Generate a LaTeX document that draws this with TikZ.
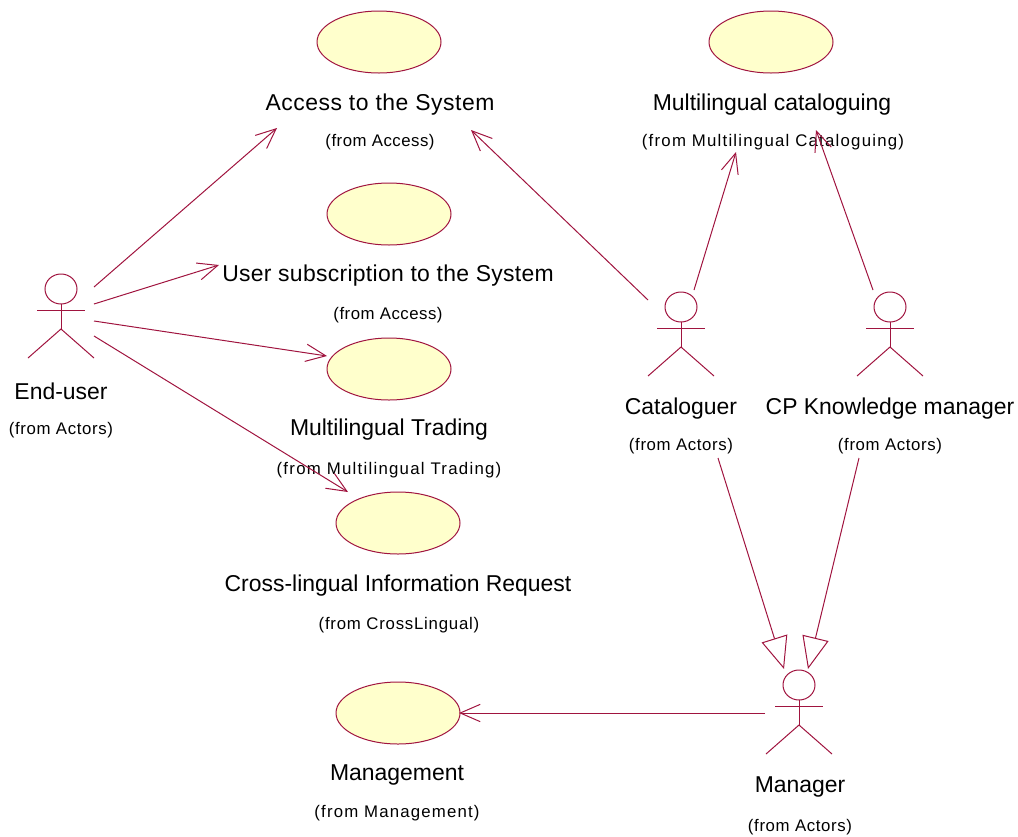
\documentclass[tikz,border=0pt]{standalone}
\usepackage{fontspec}
\setmainfont{Liberation Sans}
\usetikzlibrary{arrows.meta,shapes.geometric}
\definecolor{rose}{HTML}{A0143F}
\definecolor{cream}{HTML}{FFFFCC}
\newcommand{\spaced}[1]{\addfontfeature{LetterSpace=#1}}
\tikzset{
  usecase/.style={ellipse,draw=rose,fill=cream,line width=.75pt,minimum width=93pt,minimum height=46.5pt,inner sep=0pt,outer sep=0pt},
  head/.style={ellipse,draw=rose,line width=.75pt,minimum width=24pt,minimum height=22.5pt,inner sep=0pt,outer sep=0pt},
  limb/.style={draw=rose,line width=.75pt},
  title/.style={font=\fontsize{17.2pt}{20pt}\selectfont,inner sep=0pt,text=black,yshift=-1pt},
  origin/.style={font=\fontsize{12.6pt}{15pt}\selectfont,inner sep=0pt,text=black,yshift=-1pt},
  assoc/.style={draw=rose,line width=.75pt,-{Straight Barb[length=15pt,width=13pt,line width=.75pt]}},
  general/.style={draw=rose,line width=.75pt,-{Triangle[open,length=24pt,width=20pt,line width=.75pt,fill=white]}},
}
\newcommand{\stickfigure}[1]{%
  \draw[limb] ([yshift=-21*.75pt]#1.center) ++(-24,0) -- ++(48,0);
  \draw[limb] (#1.south) -- ([yshift=-40*.75pt]#1.center);
  \draw[limb] ([shift={(-33,69)}]#1.center) -- ([yshift=-40*.75pt]#1.center) -- ([shift={(33,69)}]#1.center);
}
\begin{document}
\begin{tikzpicture}[x=.75pt,y=-.75pt]
\useasboundingbox (0,0) rectangle (1018,836);
% use cases
\node[usecase] (access) at (379,42) {};
\node[usecase] (catalog) at (771,42) {};
\node[usecase] (subscr) at (389,214) {};
\node[usecase] (trading) at (389,369) {};
\node[usecase] (cross) at (398,523) {};
\node[usecase] (mgmt) at (398,713) {};
% actors
\node[head] (enduser) at (61,289) {};
\node[head] (cataloguer) at (681,307) {};
\node[head] (cpkm) at (890,307) {};
\node[head] (manager) at (799,685) {};
\stickfigure{enduser}
\stickfigure{cataloguer}
\stickfigure{cpkm}
\stickfigure{manager}
% labels
\node[title] (t1) at (380,103) {\spaced{2.3}Access to the System};
\node[origin] (o1) at (380,141) {\spaced{3}(from Access)};
\node[title] (t2) at (772,103) {Multilingual cataloguing};
\node[origin] (o2) at (773,141) {\spaced{7.3}(from Multilingual Cataloguing)};
\node[title] (t3) at (388,274) {\spaced{1.3}User subscription to the System};
\node[origin] (o3) at (388,314) {\spaced{3}(from Access)};
\node[title] (t4) at (389,428) {Multilingual Trading};
\node[origin] (o4) at (389,469) {\spaced{7.5}(from Multilingual Trading)};
\node[title] (t5) at (398,584) {Cross-lingual Information Request};
\node[origin] (o5) at (399,624) {\spaced{4.6}(from CrossLingual)};
\node[title] (t6) at (397,774) {Management};
\node[origin] (o6) at (397,812) {\spaced{7}(from Management)};
\node[title] (t7) at (61,390) {End-user};
\node[origin] (o7) at (61,429) {\spaced{3.8}(from Actors)};
\node[title] (t8) at (681,407) {Cataloguer};
\node[origin] (o8) at (681,445) {\spaced{3.8}(from Actors)};
\node[title] (t9) at (890,407) {CP Knowledge manager};
\node[origin] (o9) at (890,445) {\spaced{3.8}(from Actors)};
\node[title] (t10) at (800,786) {Manager};
\node[origin] (o10) at (800,826) {\spaced{3.8}(from Actors)};
% connector free ends
\coordinate (eu1) at (94,287); \coordinate (eu2) at (94,304);
\coordinate (eu3) at (94,321); \coordinate (eu4) at (94,336);
\coordinate (toaccess) at (277,128); \coordinate (tosubscr) at (219,265);
\coordinate (totrading) at (327,356); \coordinate (tocross) at (348,492);
\coordinate (ca1) at (648,300); \coordinate (ca2) at (694,290);
\coordinate (toaccess2) at (471,130); \coordinate (tocat1) at (736,152);
\coordinate (cp1) at (873,290); \coordinate (tocat2) at (816,130);
\coordinate (ma1) at (765,713); \coordinate (tomgmt) at (459,713);
\coordinate (ca3) at (718,458); \coordinate (cp2) at (859,458);
\coordinate (toman1) at (784,669); \coordinate (toman2) at (808,669);
% connectors
\draw[assoc] (eu1) -- (toaccess);
\draw[assoc] (eu2) -- (tosubscr);
\draw[assoc] (eu3) -- (totrading);
\draw[assoc] (eu4) -- (tocross);
\draw[assoc] (ca1) -- (toaccess2);
\draw[assoc] (ca2) -- (tocat1);
\draw[assoc] (cp1) -- (tocat2);
\draw[assoc] (ma1) -- (tomgmt);
\draw[general] (ca3) -- (toman1);
\draw[general] (cp2) -- (toman2);
\end{tikzpicture}
\end{document}
